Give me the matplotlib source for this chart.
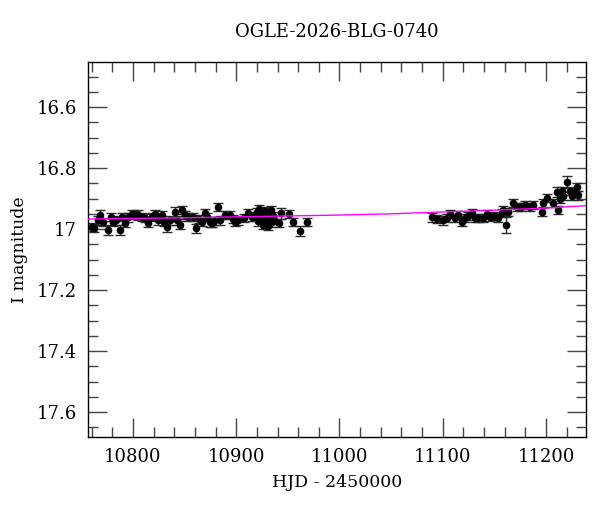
import matplotlib
matplotlib.use("Agg")
import matplotlib.pyplot as plt
from matplotlib.ticker import MultipleLocator
import numpy as np

title = "OGLE-2026-BLG-0740"
xlabel = "HJD - 2450000"
ylabel = "I magnitude"

hjd = [10760.3, 10762.2, 10766.1, 10768.0, 10770.9, 10775.8, 10778.7, 10780.6, 10783.5, 10787.4,
       10789.3, 10792.3, 10795.2, 10799.0, 10801.9, 10804.8, 10808.7, 10811.6, 10814.5, 10818.4,
       10821.3, 10824.2, 10828.1, 10830.0, 10832.9, 10835.8, 10840.7, 10842.6, 10845.5, 10847.5,
       10850.4, 10853.3, 10858.1, 10861.0, 10864.0, 10866.8, 10869.7, 10871.7, 10874.6, 10876.5,
       10878.4, 10882.3, 10884.3, 10889.1, 10893.9, 10896.9, 10898.8, 10901.7, 10907.5, 10911.4,
       10915.3, 10919.0, 10920.5, 10921.5, 10922.5, 10923.5, 10924.5, 10925.5, 10926.5, 10927.5,
       10928.5, 10929.5, 10930.5, 10931.5, 10932.5, 10933.5, 10934.5, 10935.5, 10936.5, 10941.4,
       10943.3, 10951.1, 10955.0, 10961.7, 10968.5,
       11089.6, 11094.4, 11100.2, 11104.1, 11107.0, 11111.9, 11114.8, 11118.6, 11121.5, 11124.4,
       11128.3, 11131.2, 11134.1, 11139.0, 11142.8, 11145.8, 11150.6, 11153.5, 11157.4, 11158.4,
       11161.3, 11163.2, 11168.0, 11171.9, 11175.8, 11179.7, 11184.5, 11187.4, 11196.1, 11197.1,
       11201.0, 11206.8, 11210.6, 11211.6, 11213.5, 11215.5, 11216.5, 11220.3, 11223.2, 11225.2,
       11228.1, 11230.0, 11231.0]

mag = [16.993, 16.997, 16.971, 16.954, 16.977, 17.003, 16.961, 16.977, 16.971, 17.003,
       16.961, 16.980, 16.961, 16.951, 16.954, 16.954, 16.961, 16.964, 16.980, 16.961,
       16.951, 16.971, 16.954, 16.977, 16.993, 16.971, 16.944, 16.971, 16.987, 16.938,
       16.954, 16.961, 16.961, 16.997, 16.967, 16.977, 16.948, 16.961, 16.977, 16.980,
       16.974, 16.928, 16.971, 16.954, 16.954, 16.967, 16.977, 16.971, 16.964, 16.948,
       16.961, 16.958, 16.945, 16.975, 16.935, 16.965, 16.950, 16.985, 16.960, 16.940,
       16.972, 16.955, 16.990, 16.948, 16.967, 16.938, 16.978, 16.958, 16.970, 16.980,
       16.948, 16.951, 16.977, 17.007, 16.977,
       16.962, 16.967, 16.971, 16.964, 16.951, 16.964, 16.954, 16.977, 16.964, 16.957,
       16.948, 16.964, 16.964, 16.964, 16.951, 16.961, 16.957, 16.964, 16.948, 16.938,
       16.987, 16.944, 16.915, 16.928, 16.928, 16.921, 16.928, 16.921, 16.944, 16.915,
       16.898, 16.915, 16.879, 16.938, 16.902, 16.875, 16.892, 16.846, 16.875, 16.892,
       16.879, 16.862, 16.889]

err = [0.014, 0.014, 0.014, 0.015, 0.014, 0.015, 0.014, 0.014, 0.014, 0.015,
       0.014, 0.014, 0.015, 0.014, 0.014, 0.015, 0.014, 0.014, 0.014, 0.014,
       0.015, 0.014, 0.014, 0.014, 0.015, 0.014, 0.015, 0.014, 0.014, 0.014,
       0.014, 0.014, 0.014, 0.015, 0.014, 0.014, 0.014, 0.014, 0.015, 0.014,
       0.014, 0.014, 0.014, 0.014, 0.014, 0.014, 0.014, 0.015, 0.014, 0.014,
       0.014, 0.014, 0.014, 0.014, 0.014, 0.014, 0.014, 0.014, 0.014, 0.014,
       0.014, 0.014, 0.014, 0.014, 0.014, 0.014, 0.014, 0.014, 0.014, 0.014,
       0.018, 0.014, 0.014, 0.016, 0.014,
       0.014, 0.014, 0.014, 0.014, 0.014, 0.014, 0.014, 0.014, 0.014, 0.014,
       0.014, 0.014, 0.014, 0.014, 0.014, 0.014, 0.014, 0.014, 0.014, 0.014,
       0.025, 0.014, 0.014, 0.014, 0.014, 0.014, 0.014, 0.014, 0.014, 0.014,
       0.014, 0.014, 0.016, 0.014, 0.014, 0.014, 0.014, 0.020, 0.014, 0.014,
       0.014, 0.014, 0.014]

model_hjd = [10756, 10850, 10950, 11000, 11050, 11100, 11150, 11200, 11240]
model_mag = [16.967, 16.963, 16.957, 16.954, 16.950, 16.944, 16.938, 16.931, 16.923]

plt.rcParams['font.family'] = ['DejaVu Serif']

fig = plt.figure(figsize=(6.0, 5.12), dpi=100)
ax = fig.add_axes([88/600, 75/512, 498/600, 375/512])

ax.errorbar(hjd, mag, yerr=err, fmt='o', color='black', ms=4.5, mec='black',
            ecolor='#2a2a2a', elinewidth=1.0, capsize=3.5, capthick=1.0, zorder=2)
ax.plot(model_hjd, model_mag, color='#ff00ff', lw=1.0, zorder=3)

ax.set_xlim(10756.5, 11238.7)
ax.set_ylim(17.682, 16.452)

ax.xaxis.set_major_locator(MultipleLocator(100))
ax.xaxis.set_minor_locator(MultipleLocator(20))
ax.yaxis.set_major_locator(MultipleLocator(0.2))
ax.yaxis.set_minor_locator(MultipleLocator(0.05))
ax.yaxis.set_major_formatter(plt.FuncFormatter(lambda v, p: ('%.1f' % v).rstrip('0').rstrip('.')))

ax.tick_params(which='both', direction='in', top=True, right=True, color='#444444', width=1.0,
               labelsize=13)
ax.tick_params(which='major', length=13.5, pad=8)
ax.tick_params(which='minor', length=7)
for s in ax.spines.values():
    s.set_linewidth(1.0)

ax.set_title(title, fontsize=13, pad=18)
ax.set_xlabel(xlabel, fontsize=12.5, labelpad=6)
ax.set_ylabel(ylabel, fontsize=12.5, labelpad=6)

fig.savefig("out.png", dpi=100)
